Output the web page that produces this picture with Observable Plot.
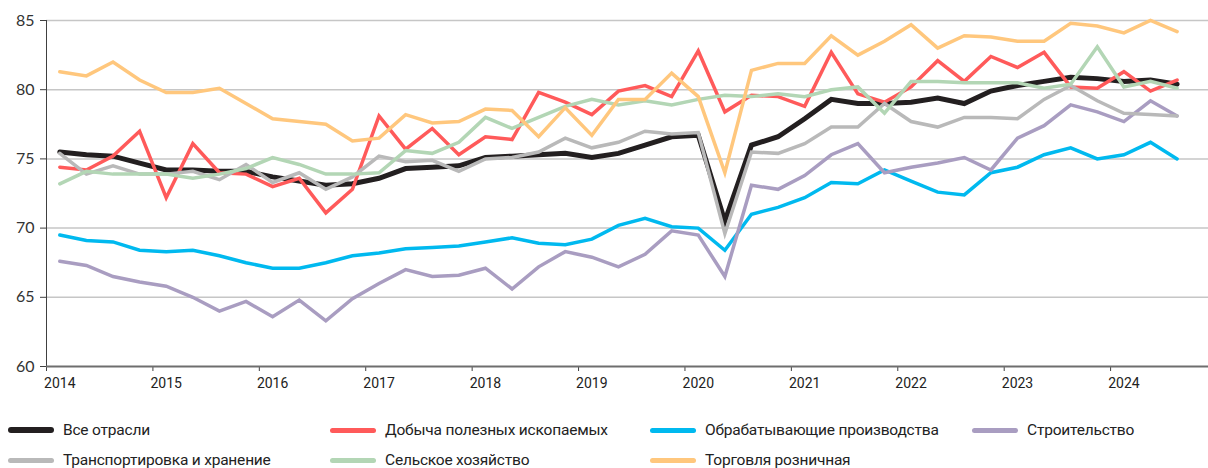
<!DOCTYPE html>
<html>
<head>
<meta charset="utf-8">
<script src="https://cdn.jsdelivr.net/npm/d3@7"></script>
<script src="https://cdn.jsdelivr.net/npm/@observablehq/plot@0.6"></script>
<style>
  html, body { margin: 0; padding: 0; background: #fff; width: 1208px; height: 468px; overflow: hidden; }
  #chart svg { display: block; }
  .legend { position: relative; margin-top: 15px; height: 60px; font-family: Roboto, "Noto Sans", sans-serif; font-size: 15.5px; color: #222; letter-spacing: -0.2px; }
  .item { position: absolute; display: flex; align-items: center; height: 30px; white-space: nowrap; }
  .sw { width: 46px; height: 5px; border-radius: 3px; margin-right: 9px; }
</style>
</head>
<body>
<div id="chart"></div>
<div class="legend" id="legend"></div>
<script>
// Tick labels (years) and series names
const years = [2014, 2015, 2016, 2017, 2018, 2019, 2020, 2021, 2022, 2023, 2024];
const yTicks = [60, 65, 70, 75, 80, 85];
const seriesNames = [
  "Все отрасли",
  "Добыча полезных ископаемых",
  "Обрабатывающие производства",
  "Строительство",
  "Транспортировка и хранение",
  "Сельское хозяйство",
  "Торговля розничная"
];
const seriesColors = ["#231f20", "#ff5a5a", "#00b9ef", "#a99dc1", "#b9b9b9", "#b3d6b5", "#ffc77d"];

// Quarterly values, 2014 Q1 ... 2024 Q3
const allIndustries = [75.5, 75.3, 75.2, 74.7, 74.2, 74.2, 74.1, 74.1, 73.7, 73.4, 73.1, 73.2, 73.6, 74.3, 74.4, 74.5, 75.1, 75.2, 75.3, 75.4, 75.1, 75.4, 76.0, 76.6, 76.7, 70.5, 76.0, 76.6, 77.9, 79.3, 79.0, 79.0, 79.1, 79.4, 79.0, 79.9, 80.3, 80.6, 80.9, 80.8, 80.6, 80.7, 80.4];
const mining = [74.4, 74.2, 75.2, 77.0, 72.2, 76.1, 74.0, 73.9, 73.0, 73.6, 71.1, 72.8, 78.1, 75.7, 77.2, 75.3, 76.6, 76.4, 79.8, 79.1, 78.2, 79.9, 80.3, 79.5, 82.8, 78.4, 79.6, 79.5, 78.8, 82.7, 79.7, 79.1, 80.2, 82.1, 80.6, 82.4, 81.6, 82.7, 80.2, 80.1, 81.3, 79.9, 80.7];
const manufacturing = [69.5, 69.1, 69.0, 68.4, 68.3, 68.4, 68.0, 67.5, 67.1, 67.1, 67.5, 68.0, 68.2, 68.5, 68.6, 68.7, 69.0, 69.3, 68.9, 68.8, 69.2, 70.2, 70.7, 70.1, 70.0, 68.4, 71.0, 71.5, 72.2, 73.3, 73.2, 74.2, 73.4, 72.6, 72.4, 74.0, 74.4, 75.3, 75.8, 75.0, 75.3, 76.2, 75.0];
const construction = [67.6, 67.3, 66.5, 66.1, 65.8, 65.0, 64.0, 64.7, 63.6, 64.8, 63.3, 64.9, 66.0, 67.0, 66.5, 66.6, 67.1, 65.6, 67.2, 68.3, 67.9, 67.2, 68.1, 69.8, 69.5, 66.5, 73.1, 72.8, 73.8, 75.3, 76.1, 74.0, 74.4, 74.7, 75.1, 74.2, 76.5, 77.4, 78.9, 78.4, 77.7, 79.2, 78.1];
const transport = [75.4, 73.9, 74.5, 73.9, 73.9, 74.1, 73.5, 74.6, 73.3, 74.0, 72.8, 73.7, 75.2, 74.8, 74.9, 74.1, 75.0, 75.1, 75.5, 76.5, 75.8, 76.2, 77.0, 76.8, 76.9, 69.6, 75.5, 75.4, 76.1, 77.3, 77.3, 79.0, 77.7, 77.3, 78.0, 78.0, 77.9, 79.3, 80.3, 79.2, 78.3, 78.2, 78.1];
const agriculture = [73.2, 74.1, 73.9, 73.9, 73.9, 73.6, 73.9, 74.3, 75.1, 74.6, 73.9, 73.9, 74.0, 75.6, 75.4, 76.2, 78.0, 77.2, 78.0, 78.8, 79.3, 78.9, 79.2, 78.9, 79.3, 79.6, 79.5, 79.7, 79.5, 80.0, 80.2, 78.3, 80.6, 80.6, 80.5, 80.5, 80.5, 80.1, 80.4, 83.1, 80.2, 80.6, 80.1];
const retail = [81.3, 81.0, 82.0, 80.7, 79.8, 79.8, 80.1, 79.0, 77.9, 77.7, 77.5, 76.3, 76.5, 78.2, 77.6, 77.7, 78.6, 78.5, 76.6, 78.7, 76.7, 79.3, 79.3, 81.2, 79.5, 74.0, 81.4, 81.9, 81.9, 83.9, 82.5, 83.5, 84.7, 83.0, 83.9, 83.8, 83.5, 83.5, 84.8, 84.6, 84.1, 85.0, 84.2];

const seriesValues = [allIndustries, mining, manufacturing, construction, transport, agriculture, retail];

const rows = [];
seriesValues.forEach((vals, s) => {
  vals.forEach((v, i) => {
    rows.push({ series: seriesNames[s], t: years[0] + (i + 0.5) / 4, value: v });
  });
});

const marks = [
  Plot.ruleY(yTicks.filter(d => d > 60), { stroke: "#c6c6c6", strokeWidth: 1.5 }),
  Plot.ruleX([years[0]], { stroke: "#404040", strokeWidth: 1 }),
  Plot.axisY({ ticks: yTicks, tickSize: 6, tickPadding: 6, label: null, stroke: "#404040", fontSize: 16, fontFamily: "Lato, 'Open Sans', sans-serif", fill: "#333" }),
  Plot.axisX({ ticks: years, tickSize: 5, label: null, tickFormat: () => "", stroke: "#404040" }),
  Plot.axisX({ ticks: years.map(y => y + 0.125), tickSize: 0, tickPadding: 12, label: null, tickFormat: d => String(Math.floor(d)), fontSize: 14, fontFamily: "Roboto, sans-serif", fill: "#222" }),
  Plot.ruleY([60], { stroke: "#6e6e6e", strokeWidth: 2 })
];
seriesNames.forEach((name, s) => {
  marks.push(Plot.line(rows.filter(r => r.series === name), {
    x: "t", y: "value",
    stroke: seriesColors[s],
    strokeWidth: s === 0 ? 5 : 3.5,
    strokeLinejoin: "miter",
    strokeMiterlimit: 4
  }));
});

const chart = Plot.plot({
  width: 1208,
  height: 400,
  marginLeft: 46,
  marginRight: 0,
  marginTop: 20,
  marginBottom: 34,
  x: { type: "linear", domain: [years[0], 2024.92], label: null },
  y: { domain: [60, 85], label: null },
  style: { background: "#fff", overflow: "visible" },
  marks
});
document.getElementById("chart").appendChild(chart);

// Legend
const legend = document.getElementById("legend");
const colX = [8, 330, 650, 972];
seriesNames.forEach((name, s) => {
  const row = s < 4 ? 0 : 1;
  const col = s < 4 ? s : s - 4;
  const item = document.createElement("div");
  item.className = "item";
  item.style.left = colX[col] + "px";
  item.style.top = (row * 30) + "px";
  const sw = document.createElement("div");
  sw.className = "sw";
  sw.style.background = seriesColors[s];
  if (s === 0) sw.style.height = "6px";
  const label = document.createElement("span");
  label.textContent = name;
  item.appendChild(sw);
  item.appendChild(label);
  legend.appendChild(item);
});
</script>
</body>
</html>
